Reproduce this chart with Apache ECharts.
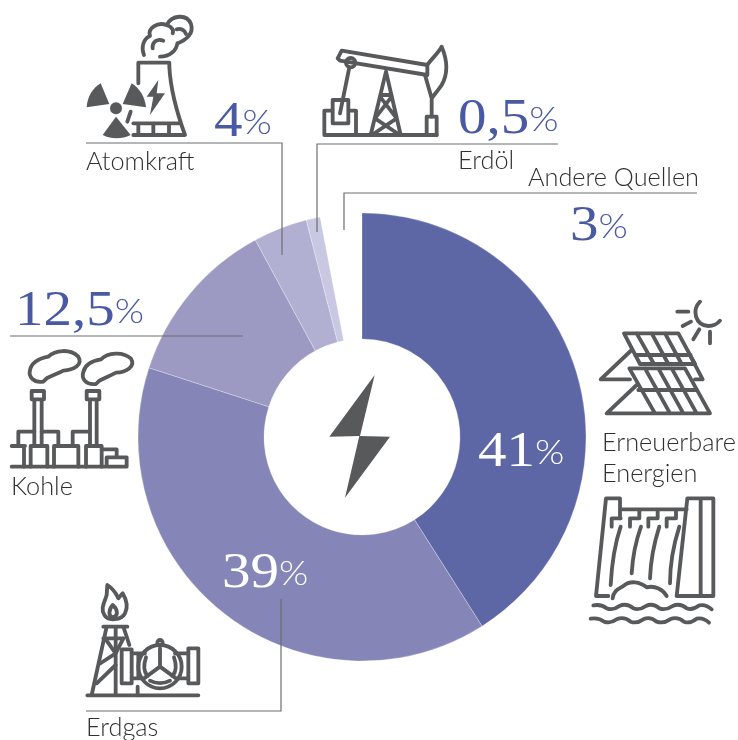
<!DOCTYPE html>
<html>
<head>
<meta charset="utf-8">
<style>html,body{margin:0;padding:0;background:#fff}#chart{width:738px;height:740px}</style>
<script src="https://cdn.jsdelivr.net/npm/echarts@6/dist/echarts.min.js"></script>
</head>
<body>
<div id="chart"></div>
<script>
const sourceNames = ["Erneuerbare\nEnergien", "Erdgas", "Kohle", "Atomkraft", "Erdöl", "Andere Quellen"];
const shareLabels = ["41", "39", "12,5", "4", "0,5", "3"];
// widths as drawn in the picture, they differ a little from the printed numbers
const sliceShares = [41, 39, 12.1, 3.9, 1, 3];
const sliceColors = ["#5e67a6", "#8685b7", "#9c9ac3", "#b1b0d3", "#c8c8e2", "rgba(255,255,255,0)"];

const INK = "#58595b", BLUE = "#4a59a4", RULE = "#6d6e71", LABEL = "#2f2f31";

// [x, y] of the bottom left of each text, same order as the arrays above
const sharePos = [[478, 480], [222, 601], [15, 339], [214, 150], [458, 147], [570, 254]];
const shareFill = ["#fff", "#fff", BLUE, BLUE, BLUE, BLUE];
const namePos = [[602, 489], [86, 743], [11, 502], [86, 177], [458, 176], [528, 193]];

const rules = [
  [[86, 143], [282, 143], [282, 255]],
  [[317, 232], [317, 144], [558, 144]],
  [[344, 230], [344, 193], [697, 193]],
  [[10, 336], [243, 336]],
  [[281, 599], [281, 711], [86, 711]]
];

// icon outlines, written in 3x crop units and placed with scale 1/3
const icons = [
  { at: [70, 0], line: [
    "M222 165C212 140 222 115 240 108C232 85 262 65 290 75C305 45 350 40 363 72C372 100 350 120 322 130C320 150 300 170 270 170",
    "M248 145C246 125 262 115 280 122M320 88C332 84 345 90 348 102M290 75C305 80 312 90 308 100",
    "M205 250L205 188L298 188L298 200C302 280 325 350 345 405L190 405M190 370L332 370M205 370L205 405M250 370L250 405M297 370L297 405M182 335L172 365"
  ], fill: [
    "M265 240L230 290L250 290L240 345L285 280L260 280Z",
    "M118 312L50 322C52 290 68 265 92 250Z",
    "M158 312L185 250C208 265 225 290 228 322Z",
    "M138 350L182 405C155 418 125 418 98 405Z",
    "M120 325A18 18 0 1 0 156 325A18 18 0 1 0 120 325Z"
  ]},
  { at: [290, 30], line: [
    "M155 62L412 105L412 135L150 92L143 85Z",
    "M168 98A14 14 0 1 0 196 98A14 14 0 1 0 168 98Z",
    "M178 112L150 250",
    "M128 210L175 210L175 280L128 280ZM128 242L103 242L103 315L198 315L198 242L175 242M103 315L440 315",
    "M288 125L242 315M288 125L332 315M272 195L305 195M270 200L320 265L250 312M305 200L255 265L325 312",
    "M405 135L425 205L425 260M412 105C425 85 445 70 455 50C472 90 475 130 455 165C445 180 432 195 425 205",
    "M410 260L440 260L440 315L410 315Z"
  ]},
  { at: [0, 280], line: [
    "M130 305C100 310 85 290 90 270C95 245 120 235 145 230C165 210 210 205 235 230C250 255 220 270 190 272C175 280 160 285 140 295Z",
    "M288 312C258 316 243 296 250 276C255 252 278 242 303 238C323 218 368 213 393 236C408 260 378 276 348 278C333 286 318 292 298 302Z",
    "M95 333L132 333L132 358L95 358ZM103 358L103 495M125 358L125 495",
    "M260 333L298 333L298 358L260 358ZM270 358L270 495M290 358L290 495",
    "M55 495L55 455L103 455M125 455L175 455L175 495M218 495L218 455L268 455",
    "M35 498L75 498M72 498L72 560M92 498L142 498L142 560M92 498L92 560M162 498L235 498L235 560M162 498L162 560M258 498L305 498L305 560M258 498L258 560",
    "M305 508L350 508L350 530M320 532L380 532L380 560M320 532L320 560M35 560L380 560"
  ]},
  { at: [580, 290], line: [
    "M360 35C335 60 345 105 385 108C400 108 412 102 420 92",
    "M292 65L325 65M308 108L333 95M340 148L358 118M390 125L390 160",
    "M132 130L295 130L345 222L180 222ZM170 130L222 222M215 130L265 222M255 130L305 222M165 195L332 195",
    "M155 180L62 268L150 268M332 200L368 268L345 268",
    "M170 285L80 370L390 370L315 235L148 235L225 370M195 235L270 370M235 235L310 370M275 235L350 370M175 300L350 300"
  ]},
  { at: [580, 480], line: [
    "M120 55L78 55L48 348L85 348M120 55L120 115M120 88L320 88",
    "M95 140L95 115L122 115M150 140L150 115L178 115L178 90M205 140L205 115L233 115L233 90M260 140L260 115L288 115L288 90",
    "M322 55L400 55L400 348L290 348ZM362 55L362 348",
    "M122 140C105 190 95 260 92 315M183 140C165 190 158 230 155 280M238 140C222 190 212 240 210 295M298 140C282 190 270 240 270 310",
    "M98 355C100 330 120 325 130 318C150 300 180 305 200 322C225 315 250 330 260 348",
    "M40 376Q65 372 80 385Q100 392 118 378Q140 368 160 385Q178 392 198 378Q218 368 238 385Q258 392 278 378Q300 368 320 385Q338 392 358 376Q378 372 395 388",
    "M32 416Q57 412 72 425Q92 432 110 418Q132 408 152 425Q170 432 190 418Q210 408 230 425Q250 432 270 418Q292 408 312 425Q330 432 350 416Q370 412 387 428"
  ]},
  { at: [70, 570], line: [
    "M112 45C135 60 140 75 145 85C150 80 155 72 158 70C170 90 175 110 165 130C155 150 115 155 103 135C90 115 105 95 110 75Z",
    "M128 105C115 120 115 140 128 142C145 140 145 120 128 105Z",
    "M100 170L172 170M110 170L65 375M160 170L178 225M137 170L137 375",
    "M100 205L160 205M105 205L137 250L88 282M160 205L137 250M80 340L137 285M52 376L385 376",
    "M155 238L185 238L185 340L155 340ZM355 235L385 235L385 340L355 340Z",
    "M185 250L225 250M315 250L355 250M185 325L215 325M325 325L355 325M205 252L205 325M203 350L203 376",
    "M205 290A65 65 0 1 0 335 290A65 65 0 1 0 205 290Z",
    "M262 218A8 8 0 1 0 278 218A8 8 0 1 0 262 218Z",
    "M270 290L270 235M270 290L222 325M270 290L318 325",
    "M228 262C220 285 222 305 232 318M312 262C320 285 318 305 308 318M240 332C258 342 282 342 300 332"
  ]},
  { at: [300, 350], line: [], fill: [
    "M224 75L88 260L178 258L135 443L270 260L180 258Z"
  ]}
];

const graphics = [];
let shapeCount = 0;

// graphic type "path" throws in this build, so each outline becomes a registered shape
function addIconPath(d, at, style) {
  const name = "iconPath" + shapeCount++;
  echarts.graphic.registerShape(name, echarts.graphic.extendPath(d));
  graphics.push({
    type: name, x: at[0], y: at[1], scaleX: 1 / 3, scaleY: 1 / 3, z: 20,
    style: style
  });
}

icons.forEach(function (ic) {
  ic.line.forEach(function (d) {
    addIconPath(d, ic.at, { fill: "none", stroke: INK, lineWidth: 11.5, lineCap: "round", lineJoin: "round" });
  });
  (ic.fill || []).forEach(function (d) {
    addIconPath(d, ic.at, { fill: INK });
  });
});

rules.forEach(function (pts) {
  graphics.push({
    type: "polyline", z: 30,
    shape: { points: pts },
    style: { fill: "none", stroke: RULE, lineWidth: 1.2 }
  });
});

// the reference numerals are wider than Liberation Serif, so the text is stretched
shareLabels.forEach(function (txt, i) {
  graphics.push({
    type: "text", x: sharePos[i][0], y: sharePos[i][1], z: 40, scaleX: 1.14,
    style: {
      text: "{n|" + txt + "}{p|%}",
      textVerticalAlign: "bottom",
      rich: {
        n: { font: '50px "Liberation Serif"', fill: shareFill[i], lineHeight: 54 },
        p: { font: '300 33px Lato', fill: shareFill[i], lineHeight: 54 }
      }
    }
  });
});

sourceNames.forEach(function (txt, i) {
  graphics.push({
    type: "text", x: namePos[i][0], y: namePos[i][1], z: 40,
    style: {
      text: txt,
      textVerticalAlign: "bottom",
      font: '300 25.3px Lato',
      lineHeight: 31,
      fill: LABEL
    }
  });
});

const myChart = echarts.init(document.getElementById("chart"), null, { renderer: "canvas" });
myChart.setOption({
  animation: false,
  backgroundColor: "#fff",
  series: [{
    type: "pie",
    silent: true,
    center: [362, 437],
    radius: [98, 224],
    startAngle: 90,
    clockwise: true,
    label: { show: false },
    labelLine: { show: false },
    data: sliceShares.map(function (v, i) {
      return {
        value: v,
        name: sourceNames[i],
        itemStyle: {
          color: sliceColors[i],
          borderColor: "rgba(255,255,255,0.45)",
          borderWidth: i === 5 ? 0 : 0.6
        }
      };
    })
  }],
  graphic: graphics
});
</script>
</body>
</html>
